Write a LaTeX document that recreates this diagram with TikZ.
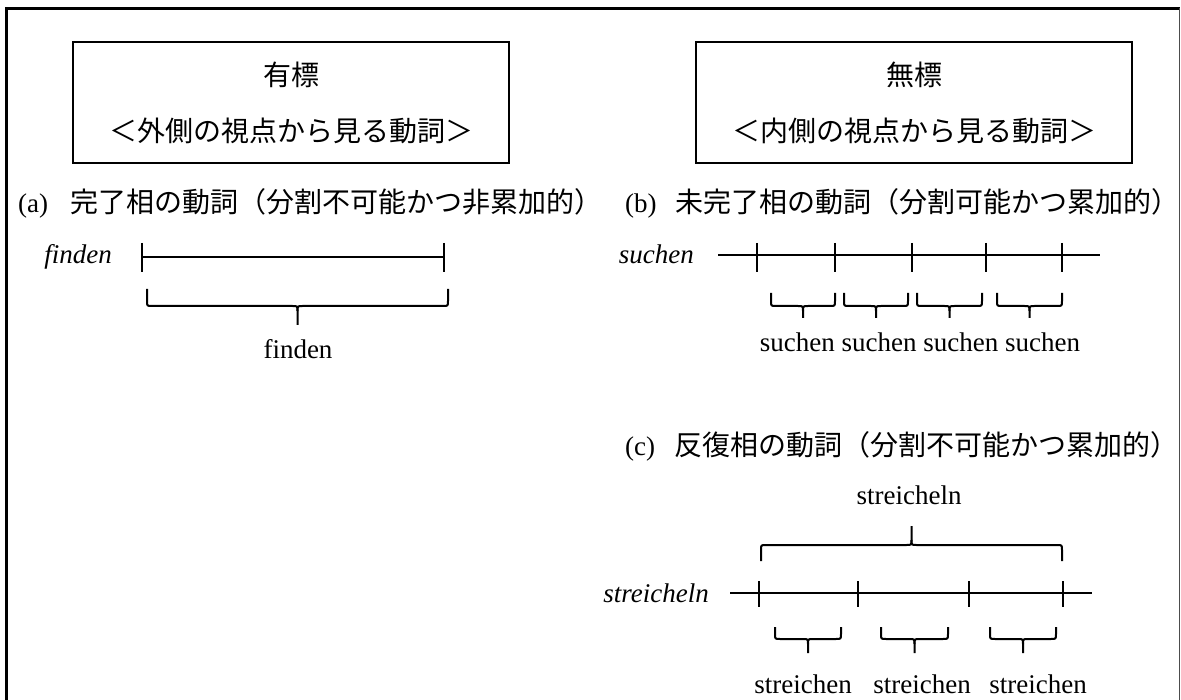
\documentclass[tikz,border=0pt]{standalone}
\usepackage{fontspec}
\setmainfont{Liberation Serif}
\newfontfamily\cjk{Noto Sans CJK JP}
\newcommand\jp[1]{{\fontsize{28}{32}\selectfont\cjk #1}}
\newcommand\mybrace[6]{%
  \pgfmathsetmacro\xm{(#1+#2)/2}%
  \pgfmathsetmacro\yA{#4-(#6)*5}%
  \pgfmathsetmacro\yB{#4+(#6)*5}%
  \draw[br] (#1,#3) -- (#1,\yA) .. controls (#1,#4) .. (#1+5,#4) -- (\xm-5,#4) .. controls (\xm,#4) .. (\xm,\yB) -- (\xm,#5);
  \draw[br] (#2,#3) -- (#2,\yA) .. controls (#2,#4) .. (#2-5,#4) -- (\xm+5,#4) .. controls (\xm,#4) .. (\xm,\yB);
}
\begin{document}
\begin{tikzpicture}[x=1pt,y=-1pt,
  every node/.style={inner sep=0pt, font=\fontsize{27}{32}\selectfont},
  hbox/.style={draw, line width=2.4pt, minimum width=436pt, minimum height=121pt, align=center, font=\fontsize{28}{56}\selectfont\cjk},
  tline/.style={line width=1.2pt},
  iline/.style={line width=1.6pt},
  tick/.style={line width=2.1pt},
  br/.style={line width=2pt},
  verb/.style={anchor=base east, font=\fontsize{27}{32}\selectfont\itshape},
  lab/.style={anchor=base},
  ttl/.style={anchor=base west}]
\useasboundingbox (0,0) rectangle (1181,700);
% frame
\draw[line width=2.6pt] (6.5,700) -- (6.5,8.5) -- (1179.5,8.5);
\draw[line width=1.5pt, black!70] (1179.5,8.5) -- (1179.5,700);
% header boxes
\node[hbox] (mk) at (291,102.5) {有標\\＜外側の視点から見る動詞＞};
\node[hbox] (um) at (914,102.5) {無標\\＜内側の視点から見る動詞＞};
% titles
\node[ttl] (ta) at (18,213) {(a)\hspace{22pt}\jp{完了相の動詞（分割不可能かつ非累加的）}};
\node[ttl] (tb) at (625,213) {(b)\hspace{19pt}\jp{未完了相の動詞（分割可能かつ累加的）}};
\node[ttl] (tc) at (625,456) {(c)\hspace{19pt}\jp{反復相の動詞（分割不可能かつ累加的）}};
% (a) finden
\node[verb] (vf) at (112,264) {finden};
\coordinate (f1) at (142,257);
\coordinate (f2) at (444,257);
\draw[iline] (f1) -- (f2);
\foreach \c in {f1,f2} \draw[tick] ([yshift=14pt]\c) -- ([yshift=-15pt]\c);
\mybrace{147}{448}{289}{306}{325}{1}
\node[lab] (lf) at (298,359) {finden};
% (b) suchen
\node[verb] (vs) at (694,264) {suchen};
\coordinate (s0) at (718,255);
\coordinate (s1) at (757,255);
\coordinate (s2) at (835,255);
\coordinate (s3) at (912,255);
\coordinate (s4) at (986,255);
\coordinate (s5) at (1062,255);
\coordinate (s6) at (1100,255);
\draw[tline] (s0) -- (s6);
\draw[iline] (s1) -- (s5);
\foreach \c in {s1,s2,s3,s4,s5} \draw[tick] ([yshift=12pt]\c) -- ([yshift=-17pt]\c);
\mybrace{771}{835}{293}{306}{318}{1}
\mybrace{844}{908}{293}{306}{318}{1}
\mybrace{917}{982}{293}{306}{318}{1}
\mybrace{997}{1062}{293}{306}{318}{1}
\node[lab] (ls) at (920,352) {suchen suchen suchen suchen};
% (c) streicheln
\node[lab] (lst) at (909,504) {streicheln};
\mybrace{761}{1062}{561}{545}{526}{-1}
\node[verb] (vst) at (709,602) {streicheln};
\coordinate (r0) at (730,593);
\coordinate (r1) at (759,593);
\coordinate (r2) at (858,593);
\coordinate (r3) at (969,593);
\coordinate (r4) at (1063,593);
\coordinate (r5) at (1092,593);
\draw[tline] (r0) -- (r5);
\draw[iline] (r1) -- (r4);
\foreach \c in {r1,r2,r3,r4} \draw[tick] ([yshift=12pt]\c) -- ([yshift=-14pt]\c);
\mybrace{775}{841}{627}{639}{653}{1}
\mybrace{881}{948}{627}{639}{653}{1}
\mybrace{990}{1056}{627}{639}{653}{1}
\node[lab] (l1) at (803,693) {streichen};
\node[lab] (l2) at (922,693) {streichen};
\node[lab] (l3) at (1038,693) {streichen};
\end{tikzpicture}
\end{document}
